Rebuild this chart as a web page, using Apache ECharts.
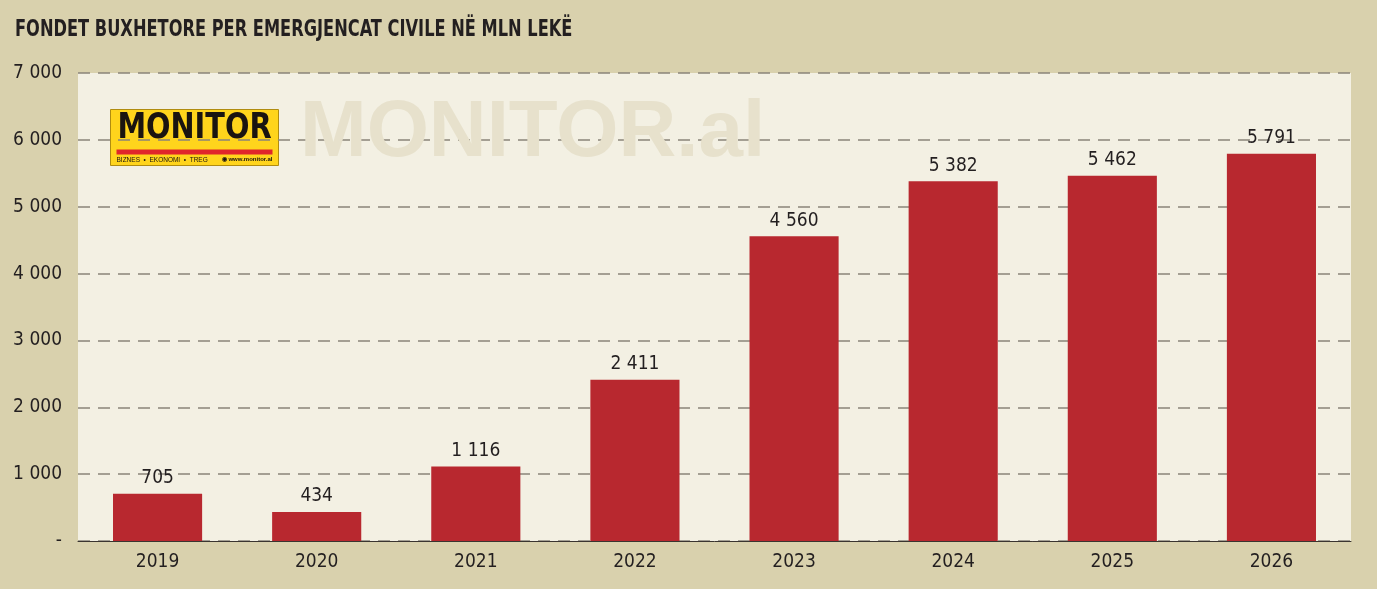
<!DOCTYPE html>
<html>
<head>
<meta charset="utf-8">
<script src="https://cdn.jsdelivr.net/npm/echarts@6/dist/echarts.min.js"></script>
<style>
html,body{margin:0;padding:0;background:#d9d1ad;}
#chart{width:1377px;height:589px;}
</style>
</head>
<body>
<div id="chart"></div>
<script>
// te dhenat
var years = ['2019', '2020', '2021', '2022', '2023', '2024', '2025', '2026'];
var fondet = [705, 434, 1116, 2411, 4560, 5382, 5462, 5791];
var yTicks = [0, 1000, 2000, 3000, 4000, 5000, 6000, 7000];
var titulli = 'FONDET BUXHETORE PER EMERGJENCAT CIVILE NË MLN LEKË';

var narrow = '"Liberation Sans Narrow", "DejaVu Sans Condensed", sans-serif';

function fmt(v) {
    if (v === 0) return '-';
    return String(v).replace(/\B(?=(\d{3})+(?!\d))/g, ' ');
}

var myChart = echarts.init(document.getElementById('chart'));
var option = {
    backgroundColor: '#d9d1ad',
    animation: false,
    grid: {
        left: 78,
        right: 26,
        top: 73,
        bottom: 48,
        show: true,
        backgroundColor: '#f3f0e3',
        borderWidth: 0
    },
    graphic: [
        {
            // titulli, pak i zgjatur vertikalisht
            type: 'text',
            x: 15,
            y: 19,
            scaleX: 0.95,
            scaleY: 1.2,
            style: {
                text: titulli,
                fontFamily: '"DejaVu Sans Condensed", sans-serif',
                fontWeight: 'bold',
                fontSize: 19,
                fill: '#231f20'
            }
        },
        {
            type: 'text',
            left: 300,
            top: 94,
            z: 1,
            style: {
                text: 'MONITOR.al',
                fontFamily: '"Liberation Sans", Arial, sans-serif',
                fontWeight: 'bold',
                fontSize: 80,
                fill: '#e7e1cc'
            }
        },
        {
            type: 'group',
            left: 110,
            top: 109,
            z: 10,
            children: [
                {type: 'rect', shape: {x: 0, y: 0, width: 168, height: 56}, style: {fill: '#ffd41c', stroke: '#b08c10', lineWidth: 1}},
                {type: 'text', scaleY: 1.1, style: {x: 84, y: 2, text: 'MONITOR', align: 'center', fontFamily: '"DejaVu Sans Condensed", sans-serif', fontWeight: 'bold', fontSize: 32, fill: '#1a1410'}},
                {type: 'rect', shape: {x: 6, y: 40, width: 156, height: 5}, style: {fill: '#e0262b'}},
                {type: 'text', style: {x: 6, y: 47, text: 'BIZNES  •  EKONOMI  •  TREG', fontFamily: '"Liberation Sans", Arial, sans-serif', fontSize: 6.5, fill: '#1a1410'}},
                {type: 'text', style: {x: 162, y: 47, text: '◉ www.monitor.al', align: 'right', fontFamily: '"Liberation Sans", Arial, sans-serif', fontWeight: 'bold', fontSize: 6, fill: '#1a1410'}}
            ]
        }
    ],
    xAxis: {
        type: 'category',
        data: years,
        axisLine: {lineStyle: {color: '#3a3530', width: 1}},
        axisTick: {show: false},
        axisLabel: {
            margin: 12,
            fontFamily: narrow,
            fontSize: 19,
            color: '#231f20'
        }
    },
    yAxis: {
        type: 'value',
        min: 0,
        max: 7000,
        interval: 1000,
        axisLine: {show: false},
        axisTick: {show: false},
        axisLabel: {
            margin: 16,
            fontFamily: narrow,
            fontSize: 19,
            color: '#231f20',
            formatter: fmt
        },
        splitLine: {
            lineStyle: {color: '#8a8479', width: 1.5, type: [12, 8]}
        }
    },
    series: [{
        type: 'bar',
        data: fondet,
        barWidth: '56%',
        z: 5,
        itemStyle: {color: '#b8282f'},
        label: {
            show: true,
            position: 'top',
            distance: 6,
            fontFamily: narrow,
            fontSize: 19,
            color: '#231f20',
            formatter: function (p) { return fmt(p.value); }
        }
    }]
};
myChart.setOption(option);
</script>
</body>
</html>
